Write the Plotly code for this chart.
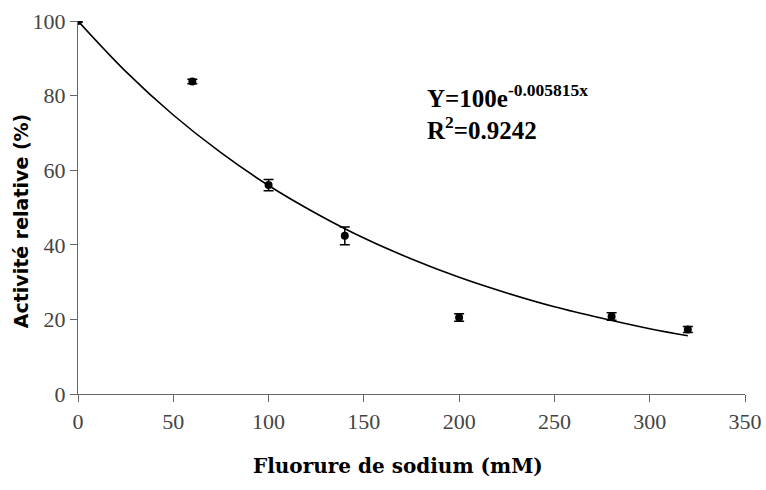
import plotly.graph_objects as go

# measured points
naf_mM = [0, 60, 100, 140, 200, 280, 320]
activite = [100, 83.8, 56.0, 42.4, 20.5, 20.8, 17.3]
erreur = [0.3, 0.6, 1.5, 2.4, 1.0, 1.0, 0.8]

# exponential trend line
fit_x = [0, 25, 50, 75, 100, 125, 150, 175, 200, 225, 250, 275, 300, 320]
fit_y = [100, 86.5, 74.8, 64.7, 55.9, 48.4, 41.8, 36.2, 31.3, 27.1, 23.4, 20.3, 17.5, 15.6]

x_ticks = [0, 50, 100, 150, 200, 250, 300, 350]
y_ticks = [0, 20, 40, 60, 80, 100]

serif = "Liberation Serif, Times New Roman, serif"

fig = go.Figure()
fig.add_trace(go.Scatter(x=fit_x, y=fit_y, mode="lines", line=dict(color="black", width=1.6, shape="spline"),
                         showlegend=False, hoverinfo="skip"))
fig.add_trace(go.Scatter(x=naf_mM, y=activite, mode="markers",
                         marker=dict(color="black", size=8, symbol="circle"),
                         error_y=dict(type="data", array=erreur, color="black", thickness=1.5, width=5),
                         showlegend=False))

fig.add_annotation(x=0.52, y=0.80, xref="paper", yref="paper", xanchor="left", yanchor="middle",
                   showarrow=False, text="<b>Y=100e<sup>-0.005815x</sup></b>",
                   font=dict(family=serif, size=25, color="black"))
fig.add_annotation(x=0.52, y=0.712, xref="paper", yref="paper", xanchor="left", yanchor="middle",
                   showarrow=False, text="<b>R<sup>2</sup>=0.9242</b>",
                   font=dict(family=serif, size=25, color="black"))
# axis titles as annotations: both sit a little off the plot centre in the original
fig.add_annotation(x=-0.085, y=0.464, xref="paper", yref="paper", xanchor="center", yanchor="middle",
                   showarrow=False, textangle=-90, text="<b>Activité relative (%)</b>",
                   font=dict(family="DejaVu Sans, sans-serif", size=19, color="black"))
fig.add_annotation(x=0.48, y=-0.193, xref="paper", yref="paper", xanchor="center", yanchor="middle",
                   showarrow=False, text="<b>Fluorure de sodium (mM)</b>",
                   font=dict(family="DejaVu Serif, serif", size=20, color="black"))

fig.update_layout(
    width=766, height=490,
    margin=dict(l=78, r=21, t=21, b=96),
    plot_bgcolor="white", paper_bgcolor="white",
    font=dict(family=serif, size=22, color="#444"),
)
fig.update_xaxes(range=[0, 350], tickvals=x_ticks, showgrid=False, zeroline=False, automargin=False,
                 showline=True, linecolor="#666", linewidth=1.2, ticks="outside", ticklen=7,
                 tickcolor="#666", ticklabeloverflow="allow")
fig.update_yaxes(range=[0, 100], tickvals=y_ticks, showgrid=False, zeroline=False, automargin=False,
                 showline=True, linecolor="#666", linewidth=1.2, ticks="outside", ticklen=7,
                 tickcolor="#666")

# drop the default page margin so the figure fills the window
fig.write_html("out.html", config={"displayModeBar": False},
               post_script="document.body.style.margin='0';")
